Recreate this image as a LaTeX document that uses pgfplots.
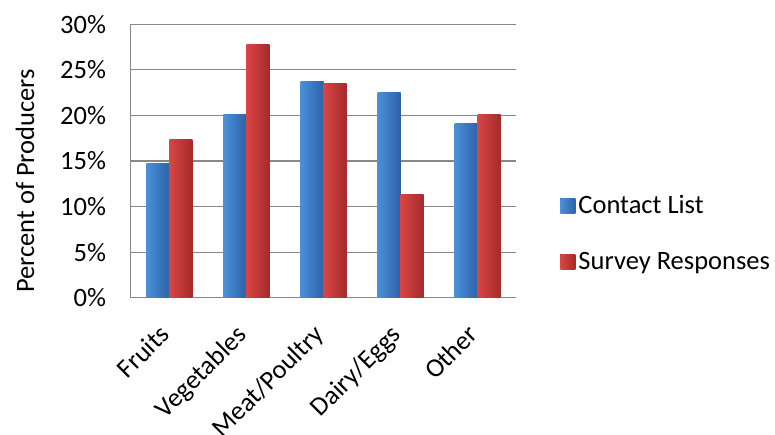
\documentclass[border=0pt]{standalone}
\usepackage{pgfplots}
\pgfplotsset{compat=1.18}
\usepackage{fontspec}
\setmainfont{Carlito}
\definecolor{blueL}{RGB}{74,144,217}
\definecolor{blueD}{RGB}{46,98,168}
\definecolor{redL}{RGB}{217,69,69}
\definecolor{redD}{RGB}{165,42,42}
\definecolor{gridc}{RGB}{136,136,136}
\begin{document}
\begin{tikzpicture}[x=1bp,y=1bp]
\useasboundingbox (0,0) rectangle (775,435);
\begin{axis}[
  at={(130.7bp,137.3bp)}, anchor=south west,
  scale only axis, width=385.6bp, height=273.4bp,
  xmin=-0.5, xmax=4.5, ymin=0, ymax=30,
  xtick={0,1,2,3,4},
  xticklabels={Fruits,Vegetables,Meat/Poultry,Dairy/Eggs,Other},
  ytick={0,5,10,15,20,25,30},
  yticklabels={0\%,5\%,10\%,15\%,20\%,25\%,30\%},
  major tick length=0pt,
  axis x line*=bottom, axis y line*=left,
  axis line style={gridc, line width=1.2bp, -},
  ymajorgrids, grid style={gridc, line width=1.2bp},
  tick label style={font=\fontsize{26.5bp}{31bp}\selectfont},
  yticklabel style={anchor=east, inner sep=0pt, xshift=-24.5bp},
  xticklabel style={rotate=45, anchor=north east, inner sep=0pt, yshift=-10bp, xshift=-26bp},
  ylabel={Percent of Producers},
  ylabel style={font=\fontsize{26.5bp}{31bp}\selectfont, at={(axis description cs:-0.274,0.427)}, anchor=center},
  legend style={draw=none, fill=none, inner sep=0pt, font=\fontsize{26.5bp}{31bp}\selectfont,
    at={(axis description cs:1.114,0.235)}, anchor=west, row sep=31bp,
    nodes={inner sep=3bp}},
  legend cell align=left,
  legend image code/.code={\fill[#1] (0bp,-7.5bp) rectangle (15bp,7.5bp);},
  bluebar/.style={ybar, bar width=23bp, bar shift=-11.5bp, draw=none, left color=blueL, right color=blueD, forget plot},
  redbar/.style={ybar, bar width=23bp, bar shift=11.5bp, draw=none, left color=redL, right color=redD, forget plot},
]
% Contact List
\addplot[bluebar] coordinates {(0,14.7)};
\addplot[bluebar] coordinates {(1,20.1)};
\addplot[bluebar] coordinates {(2,23.7)};
\addplot[bluebar] coordinates {(3,22.5)};
\addplot[bluebar] coordinates {(4,19.1)};
% Survey Responses
\addplot[redbar] coordinates {(0,17.4)};
\addplot[redbar] coordinates {(1,27.8)};
\addplot[redbar] coordinates {(2,23.5)};
\addplot[redbar] coordinates {(3,11.3)};
\addplot[redbar] coordinates {(4,20.1)};
\addlegendimage{draw=none, left color=blueL, right color=blueD}
\addlegendentry{Contact List}
\addlegendimage{draw=none, left color=redL, right color=redD}
\addlegendentry{Survey Responses}
\end{axis}
\end{tikzpicture}
\end{document}
